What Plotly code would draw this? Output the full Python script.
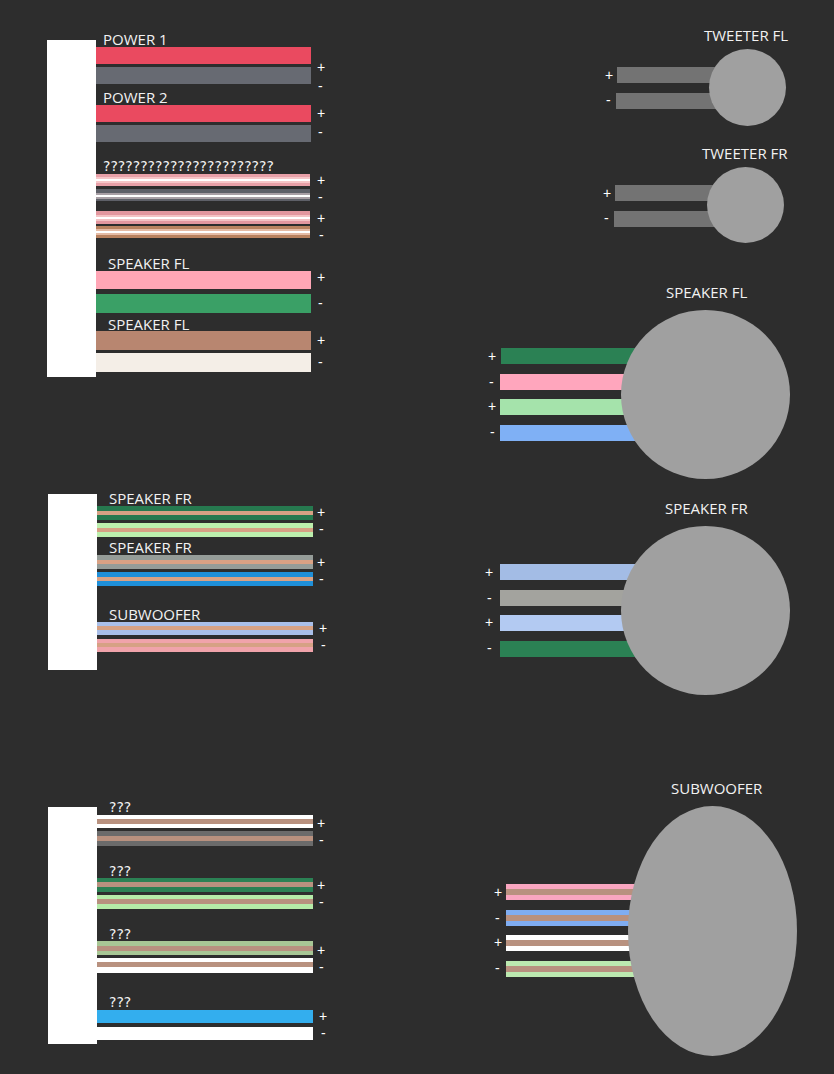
import plotly.graph_objects as go

BG = "#2d2d2d"
FONT = "Open Sans"

# left side wires, x runs from the connector to the end value
left_start = [96]*12 + [97]*12
left_end = [311]*4 + [310]*4 + [311]*4 + [313]*12
left_top = [47, 67, 105, 125, 174, 189, 211, 226, 271, 294, 331, 353,
            506, 523, 555, 572, 622, 639, 815, 831, 878, 895, 941, 958]
left_bottom = [64, 84, 122, 142, 186, 201, 224, 238, 289, 313, 350, 372,
               520, 537, 569, 586, 635, 652, 828, 846, 892, 909, 955, 973]
left_colors = ["#ea4a60", "#676a72", "#ea4a60", "#676a72", "#e8a0a8", "#5e6068", "#e3979f", "#b9825f",
               "#ffa6b6", "#3aa066", "#b88670", "#f4eee7",
               "#26794f", "#bcefad", "#959c98", "#1f8fd8", "#a9bfe9", "#f0a3aa",
               "#ffffff", "#6b6b6b", "#2b8154", "#b5eba8", "#a8c795", "#ffffff"]

# last blue/white pair has no stripe
plain_start = [97, 97]
plain_end = [313, 313]
plain_top = [1010, 1027]
plain_bottom = [1023, 1040]
plain_colors = ["#33aeee", "#ffffff"]

# tan stripes on the spliced wires
stripe_start = [97]*12
stripe_end = [313]*12
stripe_top = [511, 528, 560, 577, 626, 643, 819, 836, 882, 899, 946, 962]
stripe_bottom = [515, 532, 564, 581, 630, 647, 824, 841, 887, 904, 951, 967]
stripe_colors = ["#d6a184", "#d6a184", "#d9a184", "#d9a184", "#d6a184", "#d6a184",
                 "#b8917f", "#b8917f", "#b8917f", "#b8917f", "#b8917f", "#b8917f"]

# the four ?????? wires have a pale halo and white core
halo_top = [177, 192.5, 214.5, 229]
halo_bottom = [183, 198.5, 220.5, 235]
halo_colors = ["#f6c6c8", "#a9a0a6", "#f4c2c4", "#e5bba5"]
core_top = [179, 194.5, 216.5, 231]
core_bottom = [181, 196.5, 218.5, 233]

# right side wires
right_start = [617, 616, 615, 614, 501, 500, 500, 500, 500, 500, 500, 500, 506, 506, 506, 506]
right_end = [730, 730, 730, 730, 650, 650, 650, 650, 650, 650, 650, 650, 650, 650, 650, 650]
right_top = [67, 93, 185, 211, 348, 374, 399, 425, 564, 590, 615, 641, 884, 910, 935, 961]
right_bottom = [83, 109, 201, 227, 364, 390, 415, 441, 580, 606, 631, 657, 900, 926, 951, 977]
right_colors = ["#737373", "#737373", "#737373", "#737373",
                "#2b8154", "#ffa6bd", "#a5e3ab", "#7fb0f5",
                "#a3bce5", "#a3a39e", "#b3caf2", "#2b8154",
                "#f9a6c0", "#7fadf2", "#ffffff", "#bce9b0"]
sub_stripe_top = [889, 915, 940, 966]
sub_stripe_bottom = [895, 921, 946, 972]

# connectors: left, right, top, bottom
block_left = [47, 48, 48]
block_right = [96, 97, 97]
block_top = [40, 494, 807]
block_bottom = [377, 670, 1044]

# speakers
speaker_left = [709, 707, 621, 621, 628]
speaker_right = [786, 784, 790, 790, 797]
speaker_top = [49, 167, 310, 526, 806]
speaker_bottom = [126, 243, 479, 695, 1056]

# labels
label_text = ["POWER 1", "POWER 2", "SPEAKER FL", "SPEAKER FL",
              "SPEAKER FR", "SPEAKER FR", "SUBWOOFER"]
label_x = [101, 101, 106, 106, 107, 107, 107]
label_y = [39, 97, 263, 324, 498, 547, 614]
mystery_text = ["???????????????????????", "???", "???", "???", "???"]
mystery_x = [101, 107, 107, 107, 107]
mystery_y = [166, 807, 871, 934, 1002]
title_text = ["TWEETER FL", "TWEETER FR", "SPEAKER FL", "SPEAKER FR", "SUBWOOFER"]
title_x = [746, 745, 706, 706, 717]
title_y = [35, 153, 292, 508, 788]

sign_x = [321, 320, 321, 320, 321, 320, 321, 321, 321, 320, 321, 320,
          321, 321, 321, 321, 323, 323, 321, 321, 321, 321, 321, 321, 323, 323,
          609, 608, 607, 606, 492, 491, 492, 492, 489, 489, 489, 489, 498, 497, 498, 497]
sign_y = [67, 86, 113, 132, 179.5, 197, 217.5, 235, 277, 303, 340, 362,
          511.5, 529, 561.5, 579, 627.5, 645, 822.5, 840, 884.5, 902, 949.5, 967, 1015.5, 1033,
          75, 100, 193, 218, 356, 382, 406, 432, 572, 598, 622, 648, 892, 918, 942, 968]
sign_text = ["+", "-"] * 21


def wires(start, end, top, bottom, colors):
    return go.Bar(orientation="h",
                  y=[(a + b) / 2 for a, b in zip(top, bottom)],
                  x=[e - s for s, e in zip(start, end)],
                  base=start,
                  width=[b - a for a, b in zip(top, bottom)],
                  marker=dict(color=colors, line=dict(width=0)),
                  hoverinfo="skip", showlegend=False)


fig = go.Figure()
fig.add_trace(wires(left_start, left_end, left_top, left_bottom, left_colors))
fig.add_trace(wires(plain_start, plain_end, plain_top, plain_bottom, plain_colors))
fig.add_trace(wires(stripe_start, stripe_end, stripe_top, stripe_bottom, stripe_colors))
fig.add_trace(wires([96]*4, [310]*4, halo_top, halo_bottom, halo_colors))
fig.add_trace(wires([96]*4, [310]*4, core_top, core_bottom, ["#ffffff"]*4))
fig.add_trace(wires(right_start, right_end, right_top, right_bottom, right_colors))
fig.add_trace(wires([506]*4, [650]*4, sub_stripe_top, sub_stripe_bottom, ["#b8917f"]*4))

for i in range(len(block_left)):
    fig.add_shape(type="rect", x0=block_left[i], x1=block_right[i], y0=block_top[i], y1=block_bottom[i],
                  fillcolor="#ffffff", line_width=0, layer="above")
for i in range(len(speaker_left)):
    fig.add_shape(type="circle", x0=speaker_left[i], x1=speaker_right[i], y0=speaker_top[i], y1=speaker_bottom[i],
                  fillcolor="#a0a0a0", line_width=0, layer="above")

for t, x, y in zip(label_text, label_x, label_y):
    fig.add_annotation(x=x, y=y, text=t, showarrow=False, xanchor="left", yanchor="middle",
                       font=dict(family=FONT, size=15, color="#f2f2f2"))
# question marks are wider in the reference, DejaVu gets the width right
for t, x, y in zip(mystery_text, mystery_x, mystery_y):
    fig.add_annotation(x=x, y=y, text=t, showarrow=False, xanchor="left", yanchor="middle",
                       font=dict(family="DejaVu Sans", size=14, color="#f2f2f2"))
for t, x, y in zip(title_text, title_x, title_y):
    fig.add_annotation(x=x, y=y, text=t, showarrow=False, xanchor="center", yanchor="middle",
                       font=dict(family=FONT, size=15, color="#f2f2f2"))
# signs sit close together, Liberation has a shorter line box so they do not collide
for t, x, y in zip(sign_text, sign_x, sign_y):
    fig.add_annotation(x=x, y=y, text=t, showarrow=False, xanchor="center", yanchor="middle",
                       borderpad=0, font=dict(family="Liberation Sans", size=14, color="#ffffff"))

fig.update_layout(width=834, height=1074, margin=dict(l=0, r=0, t=0, b=0),
                  paper_bgcolor=BG, plot_bgcolor=BG, barmode="overlay", bargap=0)
fig.update_xaxes(range=[0, 834], visible=False, fixedrange=True)
fig.update_yaxes(range=[1074, 0], visible=False, fixedrange=True)
# page margin would leave a white frame round the figure
fig.write_html("out.html", config=dict(displayModeBar=False),
               post_script="document.body.style.margin='0';document.body.style.background='#2d2d2d';document.body.style.overflow='hidden';")
